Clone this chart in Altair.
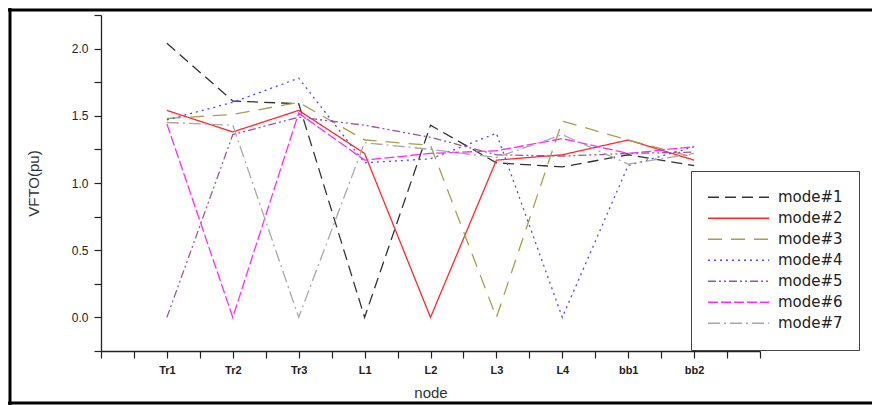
import altair as alt
import pandas as pd

nodes = ["Tr1", "Tr2", "Tr3", "L1", "L2", "L3", "L4", "bb1", "bb2"]
modes = ["mode#1", "mode#2", "mode#3", "mode#4", "mode#5", "mode#6", "mode#7"]
mode1 = [2.04, 1.61, 1.59, 0.0, 1.43, 1.15, 1.12, 1.21, 1.13]
mode2 = [1.54, 1.38, 1.54, 1.22, 0.0, 1.17, 1.21, 1.32, 1.17]
mode3 = [1.48, 1.51, 1.60, 1.32, 1.28, 0.0, 1.46, 1.32, 1.19]
mode4 = [1.47, 1.60, 1.78, 1.15, 1.18, 1.37, 0.0, 1.13, 1.27]
mode5 = [0.0, 1.36, 1.49, 1.43, 1.34, 1.21, 1.20, 1.22, 1.23]
mode6 = [1.44, 0.0, 1.52, 1.17, 1.22, 1.24, 1.33, 1.22, 1.27]
mode7 = [1.45, 1.43, 0.0, 1.30, 1.25, 1.19, 1.36, 1.14, 1.22]
series = [mode1, mode2, mode3, mode4, mode5, mode6, mode7]

colors = ["#333333", "#ff2a2a", "#a8a048", "#4a4aff", "#a050a8", "#ff2aff", "#a8a8a8"]
dashes = [[11, 6], [1, 0], [14, 9], [2, 4], [8, 3, 2, 3, 2, 3], [10, 3], [12, 4, 2, 4]]

rows = []
for m, vals in zip(modes, series):
    for i, (n, v) in enumerate(zip(nodes, vals)):
        rows.append({"mode": m, "idx": i + 1, "node": n, "value": v})
df = pd.DataFrame(rows)

label_arr = "['','" + "','".join(nodes) + "','']"
FONT = "Liberation Sans"


def legend():
    return alt.Legend(title=None, orient="none", legendX=590, legendY=156,
                      symbolType="stroke", symbolSize=3721,
                      symbolStrokeWidth=1.3, clipHeight=20.5,
                      rowPadding=0, labelFontSize=15, labelOffset=8,
                      labelFont="DejaVu Sans", labelColor="#222222",
                      padding=16, strokeColor="#444444",
                      fillColor="white")


lines = alt.Chart(df).mark_line(strokeWidth=1.3, clip=True).encode(
    x=alt.X("idx:Q",
            scale=alt.Scale(domain=[0, 10], nice=False, zero=False),
            axis=alt.Axis(values=[i * 0.5 for i in range(21)],
                          labelExpr=f"datum.value % 1 == 0 ? {label_arr}[datum.value] : ''",
                          title="node", grid=False)),
    y=alt.Y("value:Q",
            scale=alt.Scale(domain=[-0.25, 2.25], nice=False, zero=False),
            axis=alt.Axis(values=[-0.25 + i * 0.25 for i in range(11)],
                          labelExpr="abs(datum.value*2 - round(datum.value*2)) < 0.001 ? format(datum.value, '.1f') : ''",
                          title="VFTO(pu)", grid=False)),
    color=alt.Color("mode:N", scale=alt.Scale(domain=modes, range=colors), legend=legend()),
    strokeDash=alt.StrokeDash("mode:N", scale=alt.Scale(domain=modes, range=dashes), legend=legend()),
    detail="mode:N",
)

frame_df = pd.DataFrame({"k": [0]})
top = alt.Chart(frame_df).mark_rule(color="black", strokeWidth=3).encode(
    x=alt.value(-93), x2=alt.value(771), y=alt.value(-5))
left = alt.Chart(frame_df).mark_rule(color="black", strokeWidth=3).encode(
    x=alt.value(-91), y=alt.value(-7), y2=alt.value(390))
bottom = alt.Chart(frame_df).mark_rule(color="black", strokeWidth=3).encode(
    x=alt.value(-93), x2=alt.value(771), y=alt.value(388))

chart = alt.layer(lines, top, left, bottom).properties(
    width=659, height=336,
    autosize=alt.AutoSizeParams(type="none"),
    padding={"left": 93, "top": 7, "right": 112, "bottom": 54},
).configure_view(stroke=None).configure_axis(
    domainColor="#222222", domainWidth=1.3, tickColor="#222222", tickWidth=1.2,
    tickSize=7, labelFont=FONT, labelFontSize=11, labelColor="#222222",
    labelFontWeight="bold", titleFont=FONT, titleFontSize=15, titleColor="#333333",
    titleFontWeight="normal",
).configure_axisX(labelPadding=6, titlePadding=10).configure_axisY(
    labelPadding=6, titlePadding=30, labelFontWeight="normal", labelFontSize=12)

chart.save("out.html", embed_options={"renderer": "svg", "actions": False})
